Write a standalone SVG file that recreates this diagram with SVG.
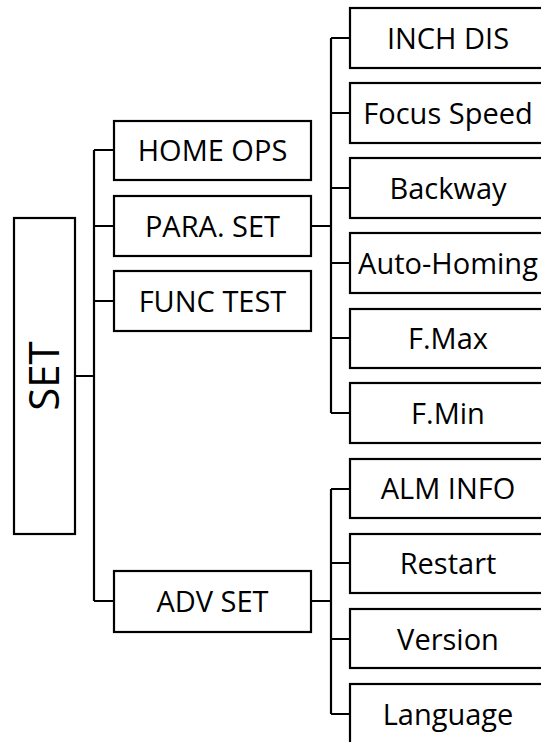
<svg xmlns="http://www.w3.org/2000/svg" width="541" height="742" viewBox="0 0 541 742">
<style>
.box{fill:#fff;stroke:#000;stroke-width:2.2}
.t{font-family:"Open Sans","Liberation Sans",sans-serif;font-size:29px;fill:#000;text-anchor:middle}
.c{fill:none;stroke:#000;stroke-width:2.2}
</style>
<rect width="541" height="742" fill="#fff"/>
<g id="connectors">
<path class="c" d="M75 376H94M94 150V601M94 150H114M94 226H114M94 301H114M94 601H114"/>
<path class="c" d="M311 226H331M331 38V413M331 38H350M331 113H350M331 188H350M331 263H350M331 338H350M331 413H350"/>
<path class="c" d="M311 601H331M331 489V714M331 489H350M331 563H350M331 639H350M331 714H350"/>
</g>
<g id="set"><rect class="box" x="14" y="218" width="61" height="316"/><text class="t" style="font-size:42px" transform="translate(59,376) rotate(-90)">SET</text></g>
<g id="home-ops"><rect class="box" x="114" y="121" width="197" height="59"/><text class="t" x="212.5" y="161">HOME OPS</text></g>
<g id="para-set"><rect class="box" x="114" y="196" width="197" height="60"/><text class="t" x="212.5" y="237">PARA. SET</text></g>
<g id="func-test"><rect class="box" x="114" y="271" width="197" height="60"/><text class="t" x="212.5" y="312">FUNC TEST</text></g>
<g id="adv-set"><rect class="box" x="114" y="571" width="197" height="61"/><text class="t" x="212.5" y="612">ADV SET</text></g>
<g id="inch-dis"><rect class="box" x="350" y="8" width="196" height="60"/><text class="t" x="448" y="49">INCH DIS</text></g>
<g id="focus-speed"><rect class="box" x="350" y="83" width="196" height="60"/><text class="t" x="448" y="124">Focus Speed</text></g>
<g id="backway"><rect class="box" x="350" y="158" width="196" height="60"/><text class="t" x="448" y="199">Backway</text></g>
<g id="auto-homing"><rect class="box" x="350" y="233" width="196" height="60"/><text class="t" x="448" y="274">Auto-Homing</text></g>
<g id="f-max"><rect class="box" x="350" y="309" width="196" height="59"/><text class="t" x="448" y="349">F.Max</text></g>
<g id="f-min"><rect class="box" x="350" y="383" width="196" height="60"/><text class="t" x="448" y="424">F.Min</text></g>
<g id="alm-info"><rect class="box" x="350" y="459" width="196" height="59"/><text class="t" x="448" y="499">ALM INFO</text></g>
<g id="restart"><rect class="box" x="350" y="534" width="196" height="59"/><text class="t" x="448" y="574">Restart</text></g>
<g id="version"><rect class="box" x="350" y="609" width="196" height="59"/><text class="t" x="448" y="650">Version</text></g>
<g id="language"><rect class="box" x="350" y="684" width="196" height="70"/><text class="t" x="448" y="725">Language</text></g>
</svg>
